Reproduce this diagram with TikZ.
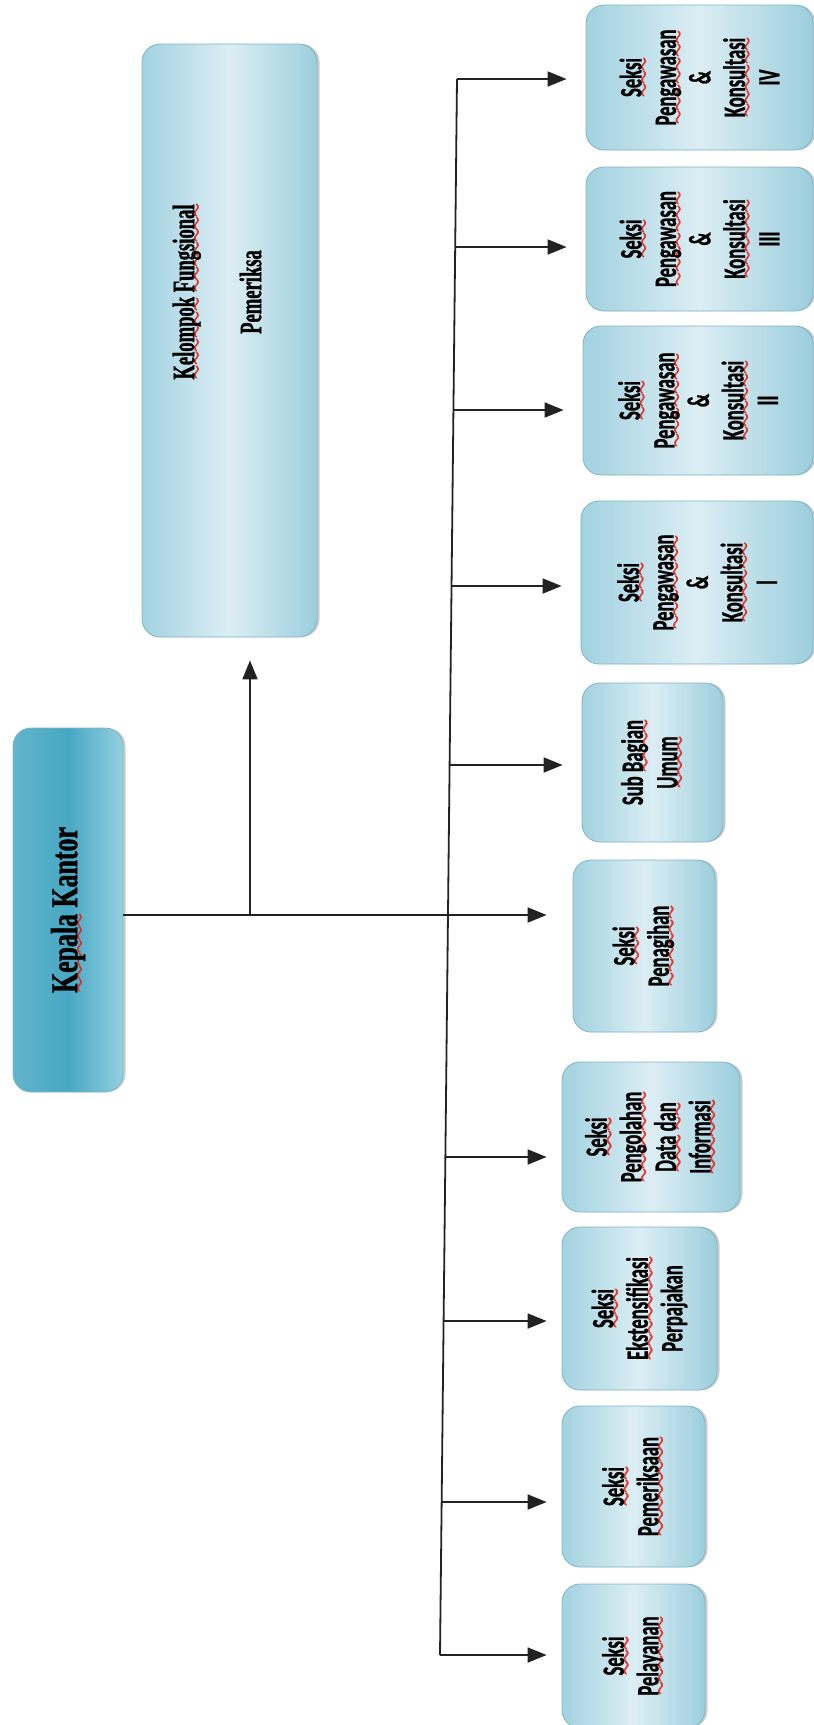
\documentclass[tikz,border=0pt]{standalone}
\usepackage{fontspec}
\newfontfamily\orgfont[FakeStretch=0.6,FakeBold=0.8]{Carlito}
\newfontfamily\headfont[FakeStretch=0.68,FakeBold=1]{Liberation Serif}
\newfontfamily\groupfont[FakeStretch=0.6,FakeBold=1]{Liberation Serif}
\usetikzlibrary{arrows.meta,shadows}
\definecolor{boxedge}{HTML}{7DB4C6}
\definecolor{lightA}{HTML}{A2D2E0}
\definecolor{lightB}{HTML}{DCEEF4}
\definecolor{lightC}{HTML}{9CCEDD}
\definecolor{headA}{HTML}{62B5CC}
\definecolor{headB}{HTML}{48A7C3}
\definecolor{headC}{HTML}{93D0E0}
\definecolor{wirecol}{HTML}{222222}
\definecolor{spellred}{HTML}{E8241E}
\font\spellwave=lasy6 scaled 2400
\newcommand\wavebar[1]{\rlap{\textcolor{spellred}{\lower#1\hbox to \wd0{\xleaders\hbox{\spellwave\char58}\hfil}}}}
\newcommand\spellw[1]{\leavevmode\setbox0\hbox{#1}\wavebar{5.4pt}\wavebar{6pt}\wavebar{6.6pt}\box0\relax}

\begin{document}
\begin{tikzpicture}[x=1pt,y=-1pt]
\tikzstyle{every node}+=[inner sep=0pt]
\tikzstyle{unit}=[draw=boxedge, line width=0.8pt, rounded corners=18pt, rotate=90,
  left color=lightA, right color=lightC, middle color=lightB, align=center,
  drop shadow={shadow xshift=2.5pt, shadow yshift=0pt, opacity=0.4},
  font=\orgfont\bfseries\fontsize{31}{34.5}\selectfont]
\tikzstyle{head}=[unit, left color=headA, right color=headC, middle color=headB,
  font=\headfont\bfseries\fontsize{38}{42}\selectfont]
\tikzstyle{wire}=[wirecol, line width=1.8pt]
\tikzstyle{arr}=[wire, -{Triangle[length=19pt,width=15pt]}, shorten >=19pt]
\useasboundingbox (0,0) rectangle (814,1725);
\node [head, minimum width=364pt, minimum height=110pt] (kepala) at (68,910) {\spellw{Kepala} Kantor};
\node [unit, minimum width=593pt, minimum height=175pt] (kelompok) at (229.5,340.5) {};
\node [rotate=90, align=center, font=\groupfont\bfseries\fontsize{31}{67}\selectfont] (kelompokText) at (217,292) {\spellw{Kelompok} \spellw{Fungsional}\\Pemeriksa};
\node [unit, minimum width=145pt, minimum height=227pt] (iv) at (699.5,77.5) {\spellw{Seksi}\\\spellw{Pengawasan}\\\&\\\spellw{Konsultasi}\\IV};
\node [unit, minimum width=144pt, minimum height=227pt] (iii) at (699.5,239) {\spellw{Seksi}\\\spellw{Pengawasan}\\\&\\\spellw{Konsultasi}\\III};
\node [unit, minimum width=149pt, minimum height=230pt] (ii) at (698,400.5) {\spellw{Seksi}\\\spellw{Pengawasan}\\\&\\\spellw{Konsultasi}\\II};
\node [unit, minimum width=163pt, minimum height=232pt] (i) at (697,582.5) {\spellw{Seksi}\\\spellw{Pengawasan}\\\&\\\spellw{Konsultasi}\\I};
\node [unit, minimum width=159pt, minimum height=141pt] (umum) at (652.5,762.5) {Sub \spellw{Bagian}\\\spellw{Umum}};
\node [unit, minimum width=172pt, minimum height=142pt] (penagihan) at (644,946) {\spellw{Seksi}\\\spellw{Penagihan}};
\node [unit, minimum width=150pt, minimum height=178pt] (pengolahan) at (651,1137) {\spellw{Seksi}\\\spellw{Pengolahan}\\\spellw{Data} \spellw{dan}\\\spellw{Informasi}};
\node [unit, minimum width=163pt, minimum height=155pt] (ekstensifikasi) at (639.5,1308.5) {\spellw{Seksi}\\\spellw{Ekstensifikasi}\\Perpajakan};
\node [unit, minimum width=161pt, minimum height=143pt] (pemeriksaan) at (633.5,1486.5) {\spellw{Seksi}\\\spellw{Pemeriksaan}};
\node [unit, minimum width=144pt, minimum height=143pt] (pelayanan) at (633.5,1656) {\spellw{Seksi}\\\spellw{Pelayanan}};
\coordinate (b1) at (457,79);
\coordinate (b2) at (455.2,247);
\coordinate (b3) at (453.4,410);
\coordinate (b4) at (451.5,586);
\coordinate (b5) at (449.6,765);
\coordinate (b6) at (448,915);
\coordinate (b7) at (445.4,1157);
\coordinate (b8) at (443.6,1321);
\coordinate (b9) at (441.6,1502);
\coordinate (b10) at (440,1655);
\coordinate (up) at (250,915);
\draw [wire] (b1) -- (b10);
\draw [wire] (kepala.south |- b6) -- (b6);
\draw [arr, shorten >=23pt] (up) -- (up |- kelompok.west);
\draw [arr] (b1) -- (b1 -| iv.north);
\draw [arr] (b2) -- (b2 -| iii.north);
\draw [arr] (b3) -- (b3 -| ii.north);
\draw [arr] (b4) -- (b4 -| i.north);
\draw [arr] (b5) -- (b5 -| umum.north);
\draw [arr, shorten >=26pt] (b6) -- (b6 -| penagihan.north);
\draw [arr, shorten >=15pt] (b7) -- (b7 -| pengolahan.north);
\draw [arr, shorten >=15pt] (b8) -- (b8 -| ekstensifikasi.north);
\draw [arr, shorten >=15pt] (b9) -- (b9 -| pemeriksaan.north);
\draw [arr, shorten >=15pt] (b10) -- (b10 -| pelayanan.north);
\end{tikzpicture}
\end{document}
